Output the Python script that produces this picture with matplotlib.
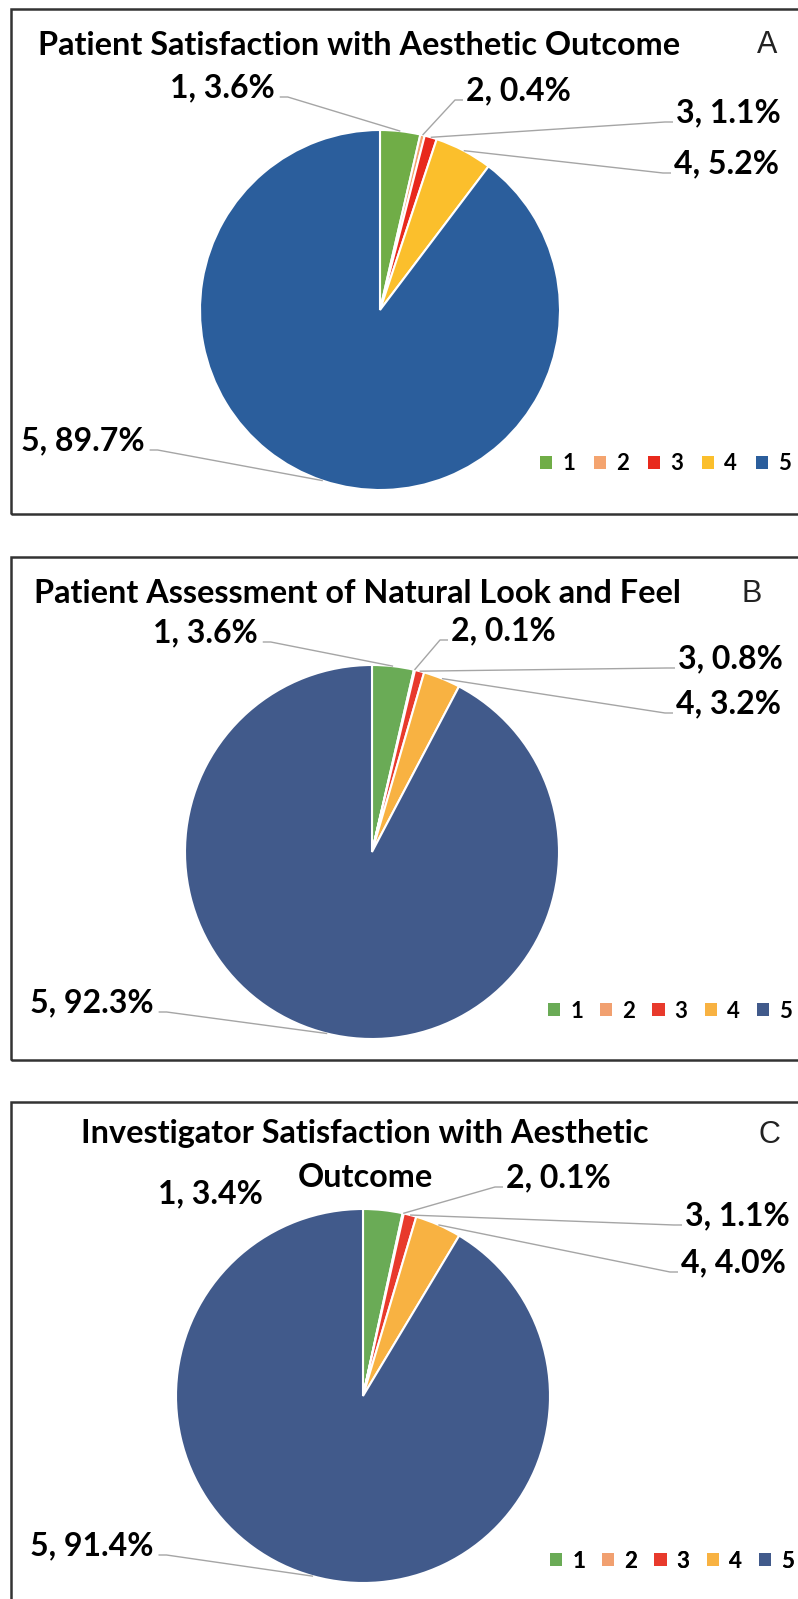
import numpy as np
import matplotlib
matplotlib.use("Agg")
import matplotlib.pyplot as plt
from matplotlib.patches import Rectangle, Patch

# ===================== data =====================
categories = ["1", "2", "3", "4", "5"]

pct_a = [3.6, 0.4, 1.1, 5.2, 89.7]
pct_b = [3.6, 0.1, 0.8, 3.2, 92.3]
pct_c = [3.4, 0.1, 1.1, 4.0, 91.4]

titles = [
    "Patient Satisfaction with Aesthetic Outcome",
    "Patient Assessment of Natural Look and Feel",
    "Investigator Satisfaction with Aesthetic\nOutcome",
]
panel_letters = ["A", "B", "C"]

colors_a = ["#70AD47", "#F4A46F", "#E8291C", "#FBBF2C", "#2B5E9C"]
colors_bc = ["#6AAB56", "#F1A070", "#E83A2C", "#F8B242", "#415A8B"]

# ===================== layout (pixels, y down) =====================
W, H = 798, 1599
BOLD = dict(family=["Lato", "DejaVu Sans"], weight="bold")
LINE_C = "#A5A5A5"

# label entries: (x, baseline, side the leader leaves from: 'r' / 'l' / None)
panels = [
    dict(vals=pct_a, colors=colors_a, box=(11, 9, 514), center=(380, 310), r=180,
         title_xy=(359, 55), letter_xy=(757, 53), legend=(540, 464, 0.85),
         labels=[(170, 97, "r"), (466, 100, "l"), (676, 122, "l"),
                 (674, 173, "l"), (21, 450, "r")]),
    dict(vals=pct_b, colors=colors_bc, box=(11, 557, 1060), center=(372, 852), r=187,
         title_xy=(357, 603), letter_xy=(741, 602), legend=(548, 1011, 0.77),
         labels=[(153, 642, "r"), (451, 640, "l"), (678, 668, "l"),
                 (676, 713, "l"), (30, 1012, "r")]),
    dict(vals=pct_c, colors=colors_bc, box=(11, 1102, 1640), center=(363, 1396), r=187,
         title_xy=(365, 1143), letter_xy=(758, 1143), legend=(550, 1561, 0.77),
         labels=[(158, 1203, None), (506, 1187, "l"), (685, 1225, "l"),
                 (681, 1272, "l"), (30, 1555, "r")]),
]
TITLE_STEP = 44


def Y(y):
    return H - y


fig = plt.figure(figsize=(W / 100, H / 100), dpi=100)
ax = fig.add_axes([0, 0, 1, 1])

pending = []
for k, p in enumerate(panels):
    x0, top, bot = p["box"]
    ax.add_patch(Rectangle((x0, Y(bot)), 820, bot - top, fill=False,
                           edgecolor="#333333", linewidth=1.8, zorder=0))

    cx, cy = p["center"]
    wedges, _ = ax.pie(p["vals"], colors=p["colors"], startangle=90, counterclock=False,
                       center=(cx, Y(cy)), radius=p["r"],
                       wedgeprops=dict(edgecolor="white", linewidth=1.5))

    # title (one text per line) + panel letter
    tx, ty = p["title_xy"]
    for j, line in enumerate(titles[k].split("\n")):
        ax.text(tx, Y(ty + j * TITLE_STEP), line, ha="center", va="baseline",
                fontsize=23.3, color="black", **BOLD)
    lx, ly = p["letter_xy"]
    ax.text(lx, Y(ly), panel_letters[k], ha="left", va="baseline", fontsize=22,
            family=["Liberation Sans", "DejaVu Sans"], color="#222222")

    # data labels
    for i, w in enumerate(wedges):
        px, py, side = p["labels"][i]
        t = ax.text(px, Y(py), f"{categories[i]}, {p['vals'][i]:.1f}%", ha="left",
                    va="baseline", fontsize=23, color="black", **BOLD)
        if side is not None:
            pending.append((t, w, py, side))

    # legend
    gx, gy, cs = p["legend"]
    handles = [Patch(facecolor=c, edgecolor="none") for c in p["colors"]]
    leg = ax.legend(handles, categories, ncol=5, loc="center left",
                    bbox_to_anchor=(gx, Y(gy)), bbox_transform=ax.transData,
                    frameon=False, prop=dict(size=16, **BOLD),
                    handlelength=0.55, handleheight=0.55, handletextpad=0.45,
                    columnspacing=cs, borderpad=0, borderaxespad=0)
    ax.add_artist(leg)

ax.set_xlim(0, W)
ax.set_ylim(0, H)
ax.set_aspect("equal")
ax.set_axis_off()

# leader lines: short horizontal stub at the label, then to the wedge's arc midpoint
renderer = fig.canvas.get_renderer()
inv = ax.transData.inverted()
for t, w, py, side in pending:
    bb = t.get_window_extent(renderer=renderer)
    (bx0, _), (bx1, _) = inv.transform([[bb.x0, 0], [bb.x1, 0]])
    if side == "r":
        s, e = bx1 + 5, bx1 + 13
    else:
        s, e = bx0 - 3, bx0 - 11
    mid = np.deg2rad((w.theta1 + w.theta2) / 2)
    wx = w.center[0] + w.r * np.cos(mid)
    wy = w.center[1] + w.r * np.sin(mid)
    ax.plot([s, e, wx], [Y(py), Y(py), wy], color=LINE_C, lw=1.0,
            solid_capstyle="butt", zorder=1)

fig.savefig("out.png", dpi=100, facecolor="white")
